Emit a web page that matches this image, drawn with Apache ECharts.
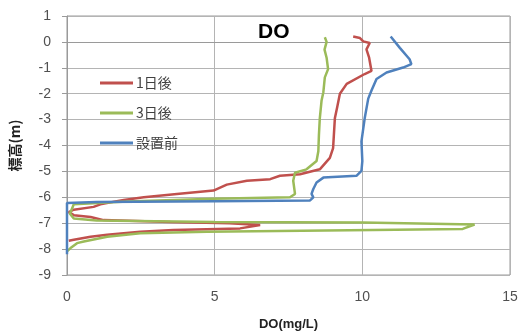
<!DOCTYPE html>
<html><head><meta charset="utf-8">
<script src="https://cdn.jsdelivr.net/npm/echarts@6/dist/echarts.min.js"></script>
<style>html,body{margin:0;padding:0;background:#fff}#c{width:529px;height:336px}</style>
</head><body><div id="c"></div>
<script>
var seriesNames = ['1日後', '3日後', '設置前'];
var xTicks = [0, 5, 10, 15];
var yTicks = [-9, -8, -7, -6, -5, -4, -3, -2, -1, 0, 1];

// 1日後 (red): DO and depth
var doDay1 = [9.69, 9.92, 10.03, 10.25, 10.14, 10.23, 10.31, 10.08, 9.47, 9.24, 9.15, 9.07, 9.01, 8.9, 8.56, 7.89, 7.21, 6.88, 6.09, 5.41, 4.96, 3.72, 2.6, 1.92, 1.13, 0.9, 0.23, 0.06, 0.23, 0.8, 1.24, 3.5, 5.5, 6.54, 5.86, 3.6, 2.48, 1.36, 0.8, 0.23, 0.06];
var depthDay1 = [0.21, 0.15, 0.02, -0.04, -0.29, -0.61, -1.12, -1.24, -1.62, -2.0, -2.51, -2.95, -4.1, -4.48, -4.92, -5.11, -5.17, -5.3, -5.36, -5.51, -5.74, -5.87, -6.0, -6.1, -6.27, -6.37, -6.48, -6.57, -6.69, -6.76, -6.88, -6.95, -7.0, -7.07, -7.2, -7.26, -7.33, -7.45, -7.52, -7.64, -7.68];

// 3日後 (green)
var doDay3 = [8.73, 8.79, 8.72, 8.79, 8.84, 8.73, 8.68, 8.62, 8.56, 8.53, 8.51, 8.45, 8.11, 7.72, 7.66, 7.72, 7.55, 4.96, 2.03, 0.23, 0.1, 0.23, 1.0, 5.0, 10.0, 13.8, 13.4, 10.36, 4.74, 2.48, 1.36, 0.57, 0.34, 0.12, 0.0];
var depthDay3 = [0.18, 0.0, -0.3, -0.61, -1.05, -1.37, -1.94, -2.26, -2.95, -3.6, -4.22, -4.6, -4.92, -5.05, -5.36, -5.87, -6.0, -6.06, -6.16, -6.27, -6.63, -6.82, -6.9, -6.95, -6.97, -7.05, -7.22, -7.26, -7.33, -7.39, -7.52, -7.71, -7.77, -7.96, -8.09];

// 設置前 (blue)
var doBefore = [10.96, 11.27, 11.6, 11.66, 11.38, 10.82, 10.48, 10.31, 10.2, 10.08, 9.97, 10.0, 9.97, 9.8, 8.68, 8.45, 8.34, 8.28, 8.34, 8.23, 5.0, 1.0, 0.0, 0.0];
var depthBefore = [0.21, -0.23, -0.67, -0.86, -0.99, -1.18, -1.43, -1.88, -2.19, -2.95, -3.84, -4.6, -4.98, -5.17, -5.24, -5.43, -5.68, -5.87, -6.0, -6.12, -6.15, -6.18, -6.22, -8.2];

function pairs(xs, ys) { return xs.map(function (x, i) { return [x, ys[i]]; }); }

var colors = ['#C0504D', '#9BBB59', '#4F81BD'];
var dataSets = [pairs(doDay1, depthDay1), pairs(doDay3, depthDay3), pairs(doBefore, depthBefore)];

var chart = echarts.init(document.getElementById('c'), null, { renderer: 'canvas' });
chart.setOption({
  animation: false,
  textStyle: { fontFamily: 'Liberation Sans, "Noto Sans CJK JP", sans-serif' },
  title: {
    text: 'DO', left: 253, top: 17,
    textStyle: { fontSize: 21, fontWeight: 'bold', color: '#000', fontFamily: 'Liberation Sans, sans-serif' }
  },
  legend: {
    orient: 'vertical', left: 95, top: 71,
    itemWidth: 33, itemHeight: 3, itemGap: 16,
    icon: 'rect',
    data: seriesNames,
    textStyle: { fontSize: 14, color: '#404040', fontFamily: '"Noto Sans CJK JP", sans-serif', padding: [0, 0, 0, -2] }
  },
  grid: { left: 66, right: 19, top: 16, bottom: 57, show: true, borderColor: '#9a9a9a', borderWidth: 1, containLabel: false },
  xAxis: {
    type: 'value', min: xTicks[0], max: xTicks[xTicks.length - 1], interval: 5,
    name: 'DO(mg/L)', nameLocation: 'middle', nameGap: 43,
    nameTextStyle: { fontSize: 13, fontWeight: 'bold', color: '#222' },
    axisLine: { show: true, lineStyle: { color: '#9a9a9a' } },
    axisTick: { show: false },
    axisLabel: { fontSize: 14, color: '#505050', margin: 15 },
    splitLine: { show: true, lineStyle: { color: '#b4b4b4', width: 1 } }
  },
  yAxis: {
    type: 'value', min: yTicks[0], max: yTicks[yTicks.length - 1], interval: 1,
    name: '標高(m)', nameLocation: 'middle', nameGap: 45, nameRotate: 90,
    nameTextStyle: { fontSize: 14, fontWeight: 'bold', color: '#222', fontFamily: '"Noto Sans CJK JP", sans-serif' },
    axisLine: { show: true, lineStyle: { color: '#9a9a9a' } },
    axisTick: { show: true, length: 5, lineStyle: { color: '#9a9a9a' } },
    axisLabel: { fontSize: 14, color: '#505050', margin: 16 },
    splitLine: { show: true, lineStyle: { color: '#b4b4b4', width: 1 } }
  },
  series: seriesNames.map(function (n, i) {
    return {
      name: n, type: 'line', data: dataSets[i], showSymbol: false, symbol: 'none',
      color: colors[i],
      lineStyle: { width: 2.5, color: colors[i] },
      itemStyle: { color: colors[i] }
    };
  })
});
</script>
</body></html>
